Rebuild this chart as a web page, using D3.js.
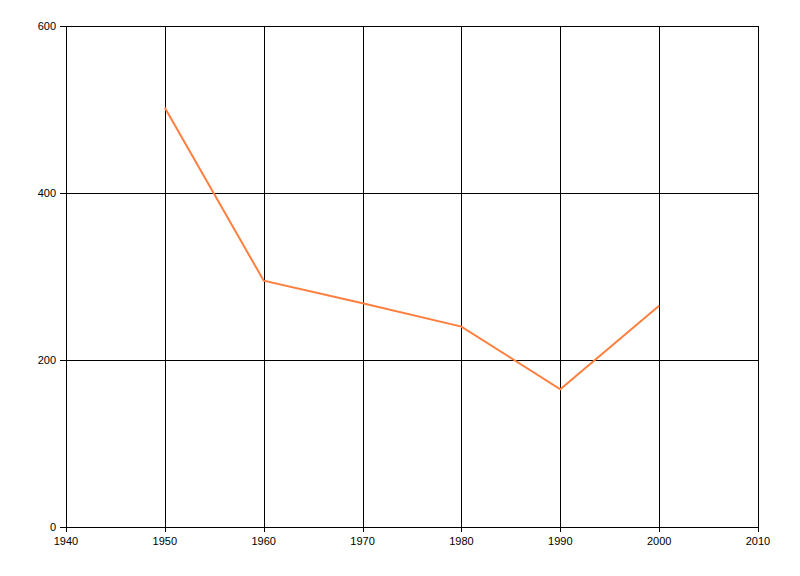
<!DOCTYPE html>
<html><head><meta charset="utf-8">
<script src="https://cdn.jsdelivr.net/npm/d3@7"></script>
<style>body{margin:0;background:#fff}svg{display:block}text{font-family:"Liberation Sans",Arial,sans-serif;font-size:11px;fill:#000}</style>
</head><body><svg id="c" width="800" height="576"></svg>
<script>
const years = [1950, 1960, 1970, 1980, 1990, 2000];
const values = [502, 295, 268, 240, 165, 265];
const xTicks = [1940, 1950, 1960, 1970, 1980, 1990, 2000, 2010];
const yTicks = [0, 200, 400, 600];

const svg = d3.select("#c");
const L = 66, R = 758, T = 26, B = 527;
const x = d3.scaleLinear().domain([1940, 2010]).range([L, R]);
const y = d3.scaleLinear().domain([0, 600]).range([B, T]);

const g = svg.append("g");
g.selectAll(".vx").data(xTicks).enter().append("line")
  .attr("x1", d => Math.round(x(d)) + 0.5).attr("x2", d => Math.round(x(d)) + 0.5)
  .attr("y1", T).attr("y2", B + 5).attr("stroke", "#000");
g.selectAll(".hy").data(yTicks).enter().append("line")
  .attr("y1", d => Math.round(y(d)) + 0.5).attr("y2", d => Math.round(y(d)) + 0.5)
  .attr("x1", L - 6).attr("x2", R).attr("stroke", "#000");

g.selectAll(".xl").data(xTicks).enter().append("text")
  .attr("x", d => x(d)).attr("y", B + 18).attr("text-anchor", "middle").text(d => d);
g.selectAll(".yl").data(yTicks).enter().append("text")
  .attr("x", L - 10).attr("y", d => y(d) + 4).attr("text-anchor", "end").text(d => d);

const line = d3.line().x((d, i) => x(years[i])).y(d => y(d));
svg.append("path").datum(values).attr("d", line)
  .attr("fill", "none").attr("stroke", "#ff7f3f").attr("stroke-width", 2);
</script></body></html>
